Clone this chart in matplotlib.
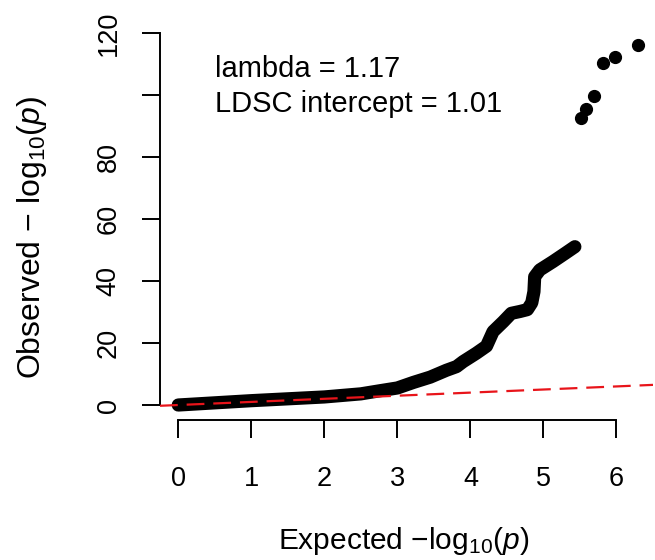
import matplotlib
matplotlib.use("Agg")
import matplotlib.pyplot as plt
import numpy as np

kurve_erwartet = [0.0, 0.5, 1.0, 1.5, 2.0, 2.5, 2.76, 3.0, 3.22, 3.45, 3.67, 3.81, 3.90,
                  4.08, 4.22, 4.31, 4.45, 4.56, 4.68, 4.78, 4.84, 4.87, 4.88, 4.95,
                  5.13, 5.30, 5.43]
kurve_beobachtet = [0.0, 0.7, 1.4, 2.0, 2.6, 3.6, 4.6, 5.5, 7.3, 9.0, 11.2, 12.4, 14.0,
                    16.7, 19.0, 23.7, 26.9, 29.6, 30.2, 30.8, 33.0, 36.6, 41.4, 43.6,
                    46.3, 49.0, 51.1]
# einzelne Spitzenwerte oben rechts
top_erwartet = [5.51, 5.58, 5.69, 5.81, 5.98, 6.29]
top_beobachtet = [92.7, 95.5, 99.9, 110.3, 112.2, 116.2]

x_ticks = [0, 1, 2, 3, 4, 5, 6]
y_ticks = [0, 20, 40, 60, 80, 100, 120]
# R laesst die Beschriftung 100 weg (Ueberlappung)
y_tick_labels = ["0", "20", "40", "60", "80", "", "120"]
text_zeilen = ["lambda = 1.17", "LDSC intercept = 1.01"]

plt.rcParams["font.family"] = ["Liberation Sans", "DejaVu Sans"]
plt.rcParams["mathtext.fontset"] = "custom"
plt.rcParams["mathtext.rm"] = "Liberation Sans"
plt.rcParams["mathtext.it"] = "Liberation Sans:italic"

W, H = 655, 560
fig = plt.figure(figsize=(W / 100, H / 100), dpi=100)
ax = fig.add_axes([160 / W, 140 / H, (653 - 160) / W, (420 - 17.8) / H])

ax.plot(kurve_erwartet, kurve_beobachtet, color="black", lw=9.5,
        solid_capstyle="round", solid_joinstyle="round", zorder=2)
ax.plot(top_erwartet, top_beobachtet, "o", color="black", ms=8.5, zorder=2)
ax.axline((0, 0), slope=1, color="#e8141a", lw=1.6, dashes=(8, 4), zorder=3)

ax.set_xlim(-0.25, 6.5)
ax.set_ylim(-4.84, 125)
ax.set_xticks(x_ticks)
ax.set_yticks(y_ticks)
ax.set_yticklabels(y_tick_labels, rotation=90, va="center")
for s in ["top", "right"]:
    ax.spines[s].set_visible(False)
ax.spines["left"].set_bounds(0, 120)
ax.spines["bottom"].set_bounds(0, 6)
for s in ["left", "bottom"]:
    ax.spines[s].set_linewidth(1.4)
ax.tick_params(axis="both", direction="out", length=13, width=1.4, labelsize=19.5)
ax.tick_params(axis="x", pad=20)
ax.tick_params(axis="y", pad=14.5)

ax.text(0.5, 106, text_zeilen[0], fontsize=21, va="baseline", ha="left")
ax.text(0.5, 94.7, text_zeilen[1], fontsize=21, va="baseline", ha="left")

fig.text(404 / W, (H - 549) / H, "Expected \u2212$\\mathrm{log}_{10}(p)$", fontsize=21.5,
         ha="center", va="baseline")
fig.text(40 / W, 1 - 237 / H, "Observed \u2212 $\\mathrm{log}_{10}(p)$", fontsize=23,
         ha="center", va="baseline", rotation=90, rotation_mode="anchor")

fig.savefig("out.png", dpi=100)
